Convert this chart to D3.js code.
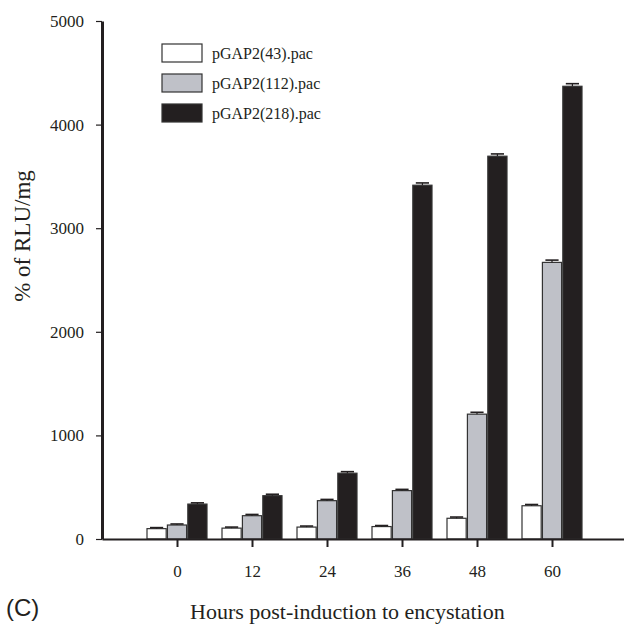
<!DOCTYPE html>
<html>
<head>
<meta charset="utf-8">
<script src="https://cdnjs.cloudflare.com/ajax/libs/d3/7.8.5/d3.min.js"></script>
<style>
  body { margin: 0; background: #fff; }
  svg text { font-family: "Liberation Serif", "Times New Roman", serif; fill: #231f20; }
  .panel { font-family: "Liberation Sans", Arial, sans-serif !important; }
</style>
</head>
<body>
<div id="chart"></div>
<script>

//data
var hours = [0, 12, 24, 36, 48, 60];
var seriesNames = ["pGAP2(43).pac", "pGAP2(112).pac", "pGAP2(218).pac"];
var white43 = [100, 105, 115, 120, 200, 321];
var gray112 = [135, 225, 370, 467, 1205, 2670];
var black218 = [337, 418, 635, 3415, 3695, 4370];
var err43 = [10, 10, 10, 10, 12, 12];
var err112 = [10, 12, 12, 12, 18, 22];
var err218 = [12, 14, 15, 22, 22, 25];
var yTicks = [0, 1000, 2000, 3000, 4000, 5000];

var colors = ["#ffffff", "#bfc1c8", "#231f20"];
var ink = "#231f20";

var width = 624, height = 625;

var svg = d3.select("#chart")
  .append("svg")
  .attr("width", width)
  .attr("height", height);

//scales
var xScale = d3.scaleLinear().domain([-12, 72]).range([102, 627]);
var yScale = d3.scaleLinear().domain([0, 5000]).range([539, 21]);
var subScale = d3.scaleBand().domain(seriesNames).range([-30, 30]).paddingInner(0.06);

//build rows
var values = [white43, gray112, black218];
var errors = [err43, err112, err218];
var rows = [];
seriesNames.forEach(function(s, i) {
  hours.forEach(function(h, j) {
    rows.push({series: s, idx: i, hour: h, value: values[i][j], err: errors[i][j]});
  });
});

//bars
svg.selectAll(".bar")
  .data(rows)
  .enter()
  .append("rect")
  .attr("class", "bar")
  .attr("x", function(d) { return xScale(d.hour) + subScale(d.series); })
  .attr("y", function(d) { return yScale(d.value); })
  .attr("width", subScale.bandwidth())
  .attr("height", function(d) { return yScale(0) - yScale(d.value); })
  .style("fill", function(d) { return colors[d.idx]; })
  .style("stroke", "#333")
  .style("stroke-width", 1.2);

//error caps
var errG = svg.selectAll(".err")
  .data(rows)
  .enter()
  .append("g")
  .attr("class", "err");

errG.append("line")
  .attr("x1", function(d) { return xScale(d.hour) + subScale(d.series) + subScale.bandwidth() / 2; })
  .attr("x2", function(d) { return xScale(d.hour) + subScale(d.series) + subScale.bandwidth() / 2; })
  .attr("y1", function(d) { return yScale(d.value); })
  .attr("y2", function(d) { return yScale(d.value + d.err); })
  .style("stroke", ink)
  .style("stroke-width", 1.2);

errG.append("line")
  .attr("x1", function(d) { return xScale(d.hour) + subScale(d.series) + 3; })
  .attr("x2", function(d) { return xScale(d.hour) + subScale(d.series) + subScale.bandwidth() - 3; })
  .attr("y1", function(d) { return yScale(d.value + d.err); })
  .attr("y2", function(d) { return yScale(d.value + d.err); })
  .style("stroke", ink)
  .style("stroke-width", 1.6);

//x axis
var xAxis = svg.append("g")
  .attr("transform", "translate(0," + yScale(0) + ")")
  .call(d3.axisBottom(xScale)
          .tickValues(hours)
          .tickSizeInner(8)
          .tickSizeOuter(0)
          .tickPadding(18));
xAxis.select(".domain").style("stroke", ink).style("stroke-width", 2);
xAxis.selectAll(".tick line").style("stroke", ink).style("stroke-width", 2);
xAxis.selectAll("text").style("font-size", "17px").style("font-family", "Liberation Serif");

//y axis
var yAxis = svg.append("g")
  .attr("transform", "translate(" + xScale(-12) + ",0)")
  .call(d3.axisLeft(yScale)
          .tickValues(yTicks)
          .tickSizeInner(6)
          .tickSizeOuter(0)
          .tickPadding(12)
          .tickFormat(d3.format("d")));
yAxis.select(".domain").style("stroke", ink).style("stroke-width", 3);
yAxis.selectAll(".tick line").style("stroke", ink).style("stroke-width", 1.2);
yAxis.selectAll("text").style("font-size", "17px").style("font-family", "Liberation Serif");

//y axis label
svg.append("text")
  .attr("transform", "translate(30,236) rotate(-90)")
  .style("text-anchor", "middle")
  .style("font-size", "23px")
  .text("% of RLU/mg");

//x axis label
svg.append("text")
  .attr("x", 190)
  .attr("y", 619)
  .style("font-size", "22px")
  .text("Hours post-induction to encystation");

//panel letter
svg.append("text")
  .attr("class", "panel")
  .attr("x", 6)
  .attr("y", 616)
  .style("font-size", "24px")
  .text("(C)");

//legend
var legend = svg.selectAll(".legend")
  .data(seriesNames)
  .enter()
  .append("g")
  .attr("class", "legend")
  .attr("transform", function(d, i) { return "translate(162," + (44 + i * 30) + ")"; });

legend.append("rect")
  .attr("width", 40)
  .attr("height", 18)
  .style("fill", function(d, i) { return colors[i]; })
  .style("stroke", "#333")
  .style("stroke-width", 1.2);

legend.append("text")
  .attr("x", 50)
  .attr("y", 15)
  .style("font-size", "16px")
  .text(function(d) { return d; });

</script>
</body>
</html>
